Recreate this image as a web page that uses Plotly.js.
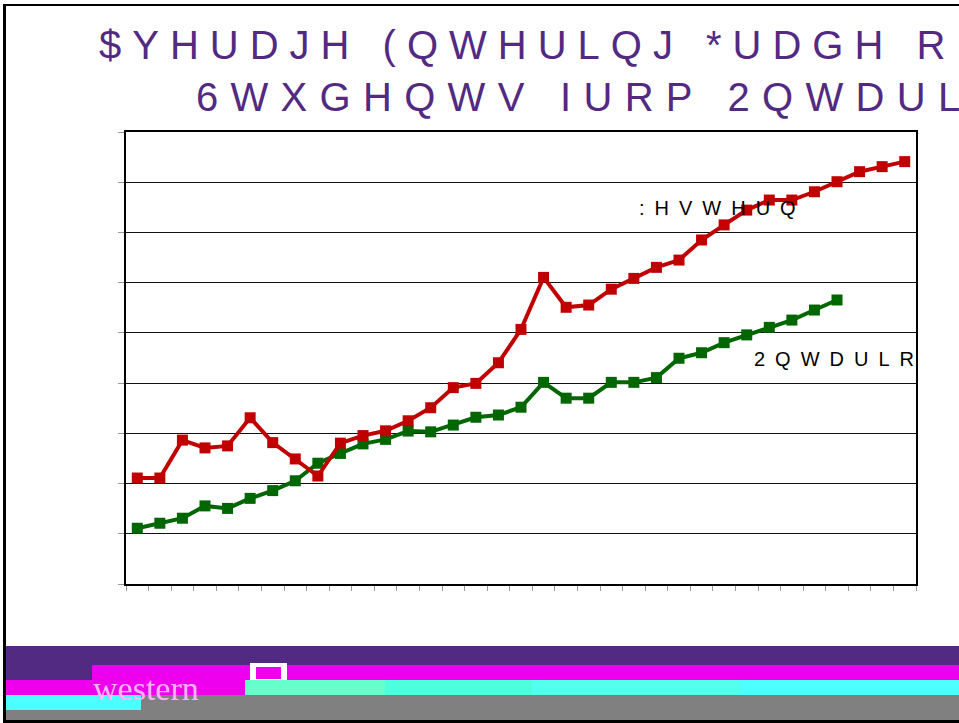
<!DOCTYPE html>
<html>
<head>
<meta charset="utf-8">
<script src="https://cdn.plot.ly/plotly-3.0.1.min.js"></script>
<style>
html,body{margin:0;padding:0;background:#fff;}
#chart{width:959px;height:723px;}
</style>
</head>
<body>
<div id="chart"></div>
<script>
// ---- data ----
var years = ["1970","1971","1972","1973","1974","1975","1976","1977","1978","1979",
             "1980","1981","1982","1983","1984","1985","1986","1987","1988","1989",
             "1990","1991","1992","1993","1994","1995","1996","1997","1998","1999",
             "2000","2001","2002","2003","2004"];
var western = [78.22,78.22,79.73,79.42,79.50,80.62,79.63,78.98,78.30,79.61,
               79.91,80.10,80.50,81.02,81.82,81.99,82.81,84.14,86.21,85.02,
               85.11,85.74,86.17,86.61,86.90,87.70,88.30,88.89,89.29,89.29,
               89.62,90.02,90.42,90.62,90.82];
var ontario = [76.22,76.42,76.62,77.11,77.01,77.41,77.72,78.11,78.81,79.20,
               79.58,79.76,80.09,80.06,80.33,80.64,80.73,81.04,82.03,81.40,
               81.40,82.03,82.03,82.22,82.99,83.21,83.61,83.92,84.22,84.51,
               84.91,85.31];
var titleLines = ["$YHUDJH (QWHULQJ *UDGH RI", "6WXGHQWV IURP 2QWDULR"];
var seriesLabels = [":HVWHUQ", "2QWDULR"];
var footerWord = "western";

// ---- layout helpers (pixel -> paper) ----
var W = 959, H = 723;
var L = 126, R = 916, T = 132, B = 584;
function px(x){ return (x - L) / (R - L); }
function py(y){ return (B - y) / (B - T); }
function rect(x0,y0,x1,y1,color){
  return {type:'rect', xref:'paper', yref:'paper', layer:'above',
          x0:px(x0), x1:px(x1), y0:py(y1), y1:py(y0),
          fillcolor:color, line:{width:0}};
}

var traces = [
  {x: years.slice(0, ontario.length), y: ontario, type:'scatter', mode:'lines+markers',
   line:{color:'#006600', width:4}, marker:{symbol:'square', size:11, color:'#006600'},
   hoverinfo:'none'},
  {x: years, y: western, type:'scatter', mode:'lines+markers',
   line:{color:'#C00000', width:4}, marker:{symbol:'square', size:11, color:'#C00000'},
   hoverinfo:'none'}
];

var shapes = [
  // footer banner
  rect(6, 646, 959, 665, '#522a82'),
  rect(92, 665, 959, 680, '#ee00ee'),
  rect(6, 665, 92, 680, '#522a82'),
  rect(6, 680, 245, 695, '#ee00ee'),
  rect(245, 680, 385, 695, '#66ffcc'),
  rect(385, 680, 532, 695, '#4dffdd'),
  rect(532, 680, 740, 695, '#55ffee'),
  rect(740, 680, 959, 695, '#4dffff'),
  rect(6, 695, 141, 710, '#4dffff'),
  rect(141, 695, 959, 710, '#808080'),
  rect(6, 710, 959, 720, '#808080'),
  rect(250, 663, 287, 680, '#ffffff'),
  rect(256, 667, 281, 679, '#ee00ee'),
  // slide frame
  rect(0, 0, 959, 6, '#ffffff'),
  rect(3, 4, 959, 6, '#000000'),
  rect(3, 4, 6, 723, '#000000'),
  rect(3, 720, 959, 723, '#000000')
];

function ann(text, x, y, size, color, family){
  return {text: text, xref:'paper', yref:'paper', x: px(x), y: py(y),
          xanchor:'left', yanchor:'middle', align:'left', showarrow:false,
          borderpad: 0,
          font:{size:size, color:color, family:family}};
}
var sans = 'Liberation Sans, Arial, sans-serif';

var layout = {
  width: W, height: H,
  margin: {l: L, r: W - R, t: T, b: H - B, pad: 0},
  paper_bgcolor: '#ffffff', plot_bgcolor: '#ffffff',
  showlegend: false,
  font: {family: sans, color: '#000'},
  xaxis: {type: 'category', tickson: 'boundaries', ticks: 'outside', ticklen: 5,
          tickcolor: '#999', tickwidth: 1, showticklabels: false, showgrid: false,
          showline: true, linecolor: '#000', linewidth: 2, mirror: true,
          range: [-0.5, years.length - 0.5], fixedrange: true},
  yaxis: {range: [74, 92], tick0: 74, dtick: 2, ticks: 'outside', ticklen: 6,
          tickcolor: '#999', tickwidth: 1, showticklabels: false,
          showgrid: true, gridcolor: '#111', gridwidth: 1.2, zeroline: false,
          showline: true, linecolor: '#000', linewidth: 2, mirror: true, fixedrange: true},
  shapes: shapes,
  annotations: [
    ann(titleLines[0], 98, 45, 40, '#522a82', sans),
    ann(titleLines[1], 195, 97, 40, '#522a82', sans),
    ann(seriesLabels[0], 638, 208, 20, '#000', sans),
    ann(seriesLabels[1], 753, 359, 20, '#000', sans),
    ann(footerWord, 92, 688, 34, '#ffb3ff', 'Liberation Serif, serif')
  ]
};

Plotly.newPlot('chart', traces, layout, {displayModeBar: false, staticPlot: true}).then(function(gd){
  var spacing = [11, 12.3, 10, 10, 0];
  var anns = gd.querySelectorAll('.annotation-text');
  anns.forEach(function(el, i){
    if (spacing[i]) el.style.letterSpacing = spacing[i] + 'px';
  });
});
</script>
</body>
</html>
